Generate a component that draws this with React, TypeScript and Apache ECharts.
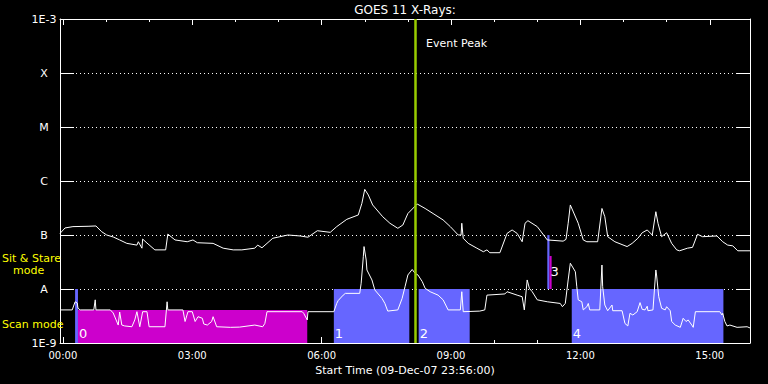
import React, { useEffect, useRef } from 'react';
import * as echarts from 'echarts';

const FONT = 'DejaVu Sans';

// GOES 11, 1-8 Angstrom channel (minutes after 10-Dec-07 00:00, W/m^2)
const longTime = [-4, 3, 14, 35, 46, 54, 61, 70, 79, 89, 103, 105, 110, 111, 117, 128, 143, 146, 156, 173,
  181, 187, 209, 223, 237, 249, 267, 271, 277, 284, 292, 313, 330, 341, 354, 372, 381, 395, 411, 416,
  420, 425, 431, 445, 455, 466, 473, 480, 493, 504, 515, 529, 539, 550, 554, 555, 557, 564, 576, 585,
  590, 594, 608, 618, 625, 632, 639, 643, 647, 660, 674, 696, 700, 703, 706, 717, 724, 729, 744, 750,
  754, 758, 768, 785, 792, 800, 806, 813, 820, 825, 828, 833, 840, 847, 854, 858, 869, 876, 883, 890,
  910, 918, 925, 932, 939, 956];
const longFlux = [1.07e-7, 1.35e-7, 1.43e-7, 1.45e-7, 1.47e-7, 1.15e-7, 1.0e-7, 9.2e-8, 8.1e-8, 7.0e-8,
  6.5e-8, 7.5e-8, 5.7e-8, 8.4e-8, 7.1e-8, 5.3e-8, 5.3e-8, 1.04e-7, 8.1e-8, 7.5e-8,
  8.1e-8, 7.2e-8, 7.0e-8, 5.7e-8, 5.3e-8, 5.3e-8, 5.7e-8, 6.5e-8, 5.8e-8, 7.0e-8,
  8.7e-8, 1.0e-7, 9.6e-8, 9.1e-8, 1.2e-7, 1.12e-7, 1.43e-7, 1.95e-7, 2.35e-7, 3.86e-7,
  7.0e-7, 5.5e-7, 3.6e-7, 2.18e-7, 1.65e-7, 1.33e-7, 1.53e-7, 2.5e-7, 3.75e-7, 3.1e-7,
  2.5e-7, 1.9e-7, 1.43e-7, 1.0e-7, 1.0e-7, 1.65e-7, 8.7e-8, 7.0e-8, 5.7e-8, 4.9e-8,
  5.3e-8, 4.7e-8, 4.7e-8, 1.07e-7, 1.24e-7, 1.07e-7, 7.5e-8, 1.65e-7, 1.84e-7, 1.43e-7,
  8.1e-8, 7.7e-8, 8.3e-8, 1.65e-7, 3.6e-7, 1.65e-7, 8.1e-8, 7.5e-8, 7.5e-8, 3.1e-7,
  2.18e-7, 9.3e-8, 7.5e-8, 6.1e-8, 7.0e-8, 8.7e-8, 1.1e-7, 1.24e-7, 1.0e-7, 2.7e-7,
  1.65e-7, 9.3e-8, 1.1e-7, 7.0e-8, 5.3e-8, 5.1e-8, 5.7e-8, 5.9e-8, 1.03e-7, 9.3e-8,
  9.6e-8, 7.5e-8, 6.5e-8, 6.3e-8, 5.1e-8, 5.1e-8];

// GOES 11, 0.5-4 Angstrom channel
const shortTime = [-4, 13, 17, 20, 21, 24, 43, 45, 46, 66, 70, 77, 79, 82, 86, 96, 100, 103, 107, 111,
  117, 120, 142, 145, 146, 167, 170, 174, 180, 184, 188, 194, 196, 201, 207, 209, 214, 233, 246, 267,
  278, 281, 284, 333, 335, 340, 341, 377, 381, 383, 390, 393, 413, 415, 418, 419, 422, 423, 430, 434,
  444, 448, 452, 466, 472, 476, 480, 486, 490, 494, 500, 504, 511, 522, 529, 536, 553, 555, 557, 580,
  587, 590, 615, 618, 632, 639, 642, 646, 649, 653, 660, 674, 692, 695, 699, 703, 706, 713, 715, 717,
  722, 724, 729, 731, 733, 747, 750, 751, 754, 758, 764, 765, 778, 782, 786, 789, 793, 799, 803, 806,
  810, 813, 814, 821, 825, 826, 829, 833, 838, 840, 845, 847, 852, 859, 863, 867, 870, 875, 877, 880,
  914, 917, 918, 921, 924, 928, 938, 952, 956];
const shortFlux = [4.1e-9, 4.1e-9, 5.8e-9, 5.5e-9, 4.4e-9, 4.1e-9, 4.1e-9, 6.3e-9, 4.1e-9, 4.1e-9,
  3.6e-9, 2.15e-9, 3.75e-9, 2.15e-9, 2.07e-9, 2.0e-9, 2.67e-9, 3.8e-9, 2.0e-9, 3.8e-9,
  3.8e-9, 2.0e-9, 2.0e-9, 5.8e-9, 4.1e-9, 4.1e-9, 2.5e-9, 3.8e-9, 3.8e-9, 2.5e-9,
  3.07e-9, 2.87e-9, 2.25e-9, 2.15e-9, 2.5e-9, 3.07e-9, 2.0e-9, 1.95e-9, 1.97e-9, 2.15e-9,
  2.0e-9, 2.3e-9, 3.8e-9, 3.8e-9, 3.55e-9, 2.67e-9, 3.8e-9, 3.8e-9, 5.4e-9, 6.1e-9,
  7.7e-9, 8.3e-9, 8.3e-9, 1.28e-8, 3.96e-8, 6.1e-8, 3.44e-8, 2.25e-8, 1.47e-8, 9.6e-9,
  6.7e-9, 5.4e-9, 3.9e-9, 4.1e-9, 6.7e-9, 1.1e-8, 1.82e-8, 2.3e-8, 1.95e-8, 1.82e-8,
  1.37e-8, 1.03e-8, 8.9e-9, 7.7e-9, 6.3e-9, 4.1e-9, 4.1e-9, 8.9e-9, 3.8e-9, 3.9e-9,
  4.1e-9, 7.7e-9, 8.1e-9, 8.9e-9, 7.7e-9, 7.2e-9, 4.1e-9, 1.47e-8, 1.03e-8, 8.9e-9,
  6.3e-9, 5.8e-9, 5.4e-9, 4.7e-9, 5.4e-9, 1.47e-8, 3.0e-8, 2.09e-8, 1.1e-8, 6.3e-9,
  5.8e-9, 4.1e-9, 4.7e-9, 5.4e-9, 4.1e-9, 4.1e-9, 2.78e-8, 1.1e-8, 5.05e-9, 3.96e-9,
  5.05e-9, 3.96e-9, 3.96e-9, 2.3e-9, 2.07e-9, 3.55e-9, 3.3e-9, 3.8e-9, 5.6e-9, 4.2e-9,
  4.1e-9, 4.8e-9, 3.96e-9, 4.1e-9, 2.25e-8, 1.82e-8, 7.2e-9, 4.4e-9, 4.1e-9, 4.7e-9,
  3.96e-9, 2.5e-9, 2.15e-9, 1.95e-9, 2.87e-9, 2.5e-9, 2.67e-9, 2.15e-9, 1.95e-9, 3.8e-9,
  3.8e-9, 3.3e-9, 3.55e-9, 2.5e-9, 2.07e-9, 2.15e-9, 1.95e-9, 2.0e-9, 1.9e-9];

// Observation blocks (minutes, flux band)
const regionStart = [17, 21, 377, 495, 674, 677, 708];
const regionEnd = [21, 340, 482, 566, 677, 680, 919];
const regionLow = [1e-9, 1e-9, 1e-9, 1e-9, 1e-8, 1e-8, 1e-9];
const regionHigh = [1e-8, 4.1e-9, 1e-8, 1e-8, 1e-7, 4.1e-8, 1e-8];
const regionType = [0, 1, 0, 0, 0, 1, 0];
const regionLabel = ['', '0', '1', '2', '', '3', '4'];
const regionLabelFlux = [0, 1.53e-9, 1.53e-9, 1.53e-9, 0, 2.1e-8, 1.53e-9];

const yTickExp = [-9, -8, -7, -6, -5, -4, -3];
const yTickText = ['1E-9', 'A', 'B', 'C', 'M', 'X', '1E-3'];

const majorTimeTicks = [0, 180, 360, 540, 720, 900];
const hourTicks = [0, 60, 120, 180, 240, 300, 360, 420, 480, 540, 600, 660, 720, 780, 840, 900];
const startMinute = -4;
const endMinute = 956;
const eventPeakTime = 490;

const TYPE_COLORS = ['#6666ff', '#cc00cc'];

function fmtTime(v: number) {
  const m = Math.round(v);
  const h = Math.floor(m / 60);
  const mm = m - h * 60;
  return String(h).padStart(2, '0') + ':' + String(mm).padStart(2, '0');
}

function fmtFlux(v: number) {
  const e = Math.round(Math.log10(v));
  const i = yTickExp.indexOf(e);
  return i >= 0 ? yTickText[i] : '';
}

const white = '#ffffff';

function xAxisDef(position: 'top' | 'bottom', ticks: number[], len: number, main: boolean, labels: boolean) {
  return {
    type: 'value',
    min: startMinute,
    max: endMinute,
    position,
    axisLine: { show: main, onZero: false, lineStyle: { color: white, width: 1 } },
    axisTick: { show: true, inside: true, length: len, customValues: ticks, lineStyle: { color: white, width: 1 } },
    axisLabel: labels
      ? { show: true, customValues: ticks, formatter: fmtTime, color: white, fontSize: 10, fontFamily: FONT, margin: 7 }
      : { show: false },
    splitLine: { show: false },
    ...(labels
      ? {
          name: 'Start Time (09-Dec-07 23:56:00)',
          nameLocation: 'middle',
          nameGap: 18,
          nameTextStyle: { color: white, fontSize: 11, fontFamily: FONT },
        }
      : {}),
  };
}

function yAxisDef(position: 'left' | 'right', main: boolean) {
  return {
    type: 'log',
    logBase: 10,
    min: 1e-9,
    max: 1e-3,
    splitNumber: 6,
    position,
    axisLine: { show: true, onZero: false, lineStyle: { color: white, width: 1 } },
    axisTick: { show: true, inside: true, length: main ? 14 : 13, lineStyle: { color: white, width: 1 } },
    axisLabel: main
      ? { show: true, formatter: fmtFlux, color: white, fontSize: 11, fontFamily: FONT, margin: 16, align: 'center' }
      : { show: false },
    splitLine: main
      ? { show: true, lineStyle: { color: white, width: 1, type: [1, 3] } }
      : { show: false },
  };
}

export default function App() {
  const ref = useRef<HTMLDivElement>(null);
  useEffect(() => {
    if (!ref.current) return;
    const chart = echarts.init(ref.current, null, { renderer: 'svg' });
    const option: any = {
      animation: false,
      backgroundColor: '#000000',
      textStyle: { fontFamily: FONT, color: white },
      grid: { left: 60, right: 18, top: 19, bottom: 41, containLabel: false },
      xAxis: [
        xAxisDef('bottom', majorTimeTicks, 6, true, true),
        xAxisDef('bottom', hourTicks, 3, false, false),
        xAxisDef('top', majorTimeTicks, 6, true, false),
        xAxisDef('top', hourTicks, 3, false, false),
      ],
      yAxis: [yAxisDef('left', true), yAxisDef('right', false)],
      series: [
        {
          type: 'custom',
          name: 'Observations',
          xAxisIndex: 0,
          yAxisIndex: 0,
          z: 1,
          silent: true,
          data: regionStart.map((s, i) => [s, regionEnd[i], regionLow[i], regionHigh[i]]),
          encode: { x: [0, 1], y: [2, 3] },
          renderItem: (params: any, api: any) => {
            const i = params.dataIndex;
            const p0 = api.coord([api.value(0), api.value(3)]);
            const p1 = api.coord([api.value(1), api.value(2)]);
            const children: any[] = [
              {
                type: 'rect',
                shape: { x: p0[0], y: p0[1], width: p1[0] - p0[0], height: p1[1] - p0[1] },
                style: { fill: TYPE_COLORS[regionType[i]] },
              },
            ];
            if (regionLabel[i]) {
              const lp = api.coord([regionStart[i], regionLabelFlux[i]]);
              children.push({
                type: 'text',
                x: lp[0] + 1,
                y: lp[1],
                style: {
                  text: regionLabel[i],
                  fill: white,
                  fontSize: 13,
                  fontFamily: FONT,
                  align: 'left',
                  verticalAlign: 'middle',
                },
              });
            }
            return { type: 'group', children };
          },
        },
        {
          type: 'line',
          name: '1-8 A',
          xAxisIndex: 0,
          yAxisIndex: 0,
          z: 3,
          silent: true,
          symbol: 'none',
          showSymbol: false,
          lineStyle: { color: white, width: 1 },
          data: longTime.map((t, i) => [t, longFlux[i]]),
        },
        {
          type: 'line',
          name: '0.5-4 A',
          xAxisIndex: 0,
          yAxisIndex: 0,
          z: 3,
          silent: true,
          symbol: 'none',
          showSymbol: false,
          lineStyle: { color: white, width: 1 },
          data: shortTime.map((t, i) => [t, shortFlux[i]]),
        },
        {
          type: 'line',
          name: 'Event Peak',
          xAxisIndex: 0,
          yAxisIndex: 0,
          z: 10,
          silent: true,
          symbol: 'none',
          showSymbol: false,
          lineStyle: { opacity: 0 },
          data: [[eventPeakTime, 1e-9]],
          markLine: {
            silent: true,
            symbol: ['none', 'none'],
            label: { show: false },
            lineStyle: { color: '#99cc00', width: 2.5, type: 'solid' },
            data: [{ xAxis: eventPeakTime }],
          },
        },
      ],
    };
    chart.setOption(option);
    const px = chart.convertToPixel({ xAxisIndex: 0 }, eventPeakTime) as number;
    chart.setOption({
      graphic: [
        {
          type: 'text',
          x: 405,
          y: 10,
          style: { text: 'GOES 11 X-Rays:', fill: white, fontSize: 12, fontFamily: FONT, align: 'center', verticalAlign: 'middle' },
        },
        {
          type: 'text',
          x: px + 11,
          y: 43,
          z: 20,
          style: { text: 'Event Peak', fill: white, fontSize: 11, fontFamily: FONT, align: 'left', verticalAlign: 'middle' },
        },
        {
          type: 'text',
          x: 2,
          y: 258.5,
          z: 20,
          style: { text: 'Sit & Stare', fill: '#ffff00', fontSize: 11, fontFamily: FONT, align: 'left', verticalAlign: 'middle' },
        },
        {
          type: 'text',
          x: 13,
          y: 270.5,
          z: 20,
          style: { text: 'mode', fill: '#ffff00', fontSize: 11, fontFamily: FONT, align: 'left', verticalAlign: 'middle' },
        },
        {
          type: 'text',
          x: 2,
          y: 324,
          z: 20,
          style: { text: 'Scan mode', fill: '#ffff00', fontSize: 11, fontFamily: FONT, align: 'left', verticalAlign: 'middle' },
        },
      ],
    });
    return () => chart.dispose();
  }, []);
  return (
    <div
      ref={ref}
      style={{ position: 'fixed', left: 0, top: 0, width: 768, height: 384, background: '#000000' }}
    />
  );
}
